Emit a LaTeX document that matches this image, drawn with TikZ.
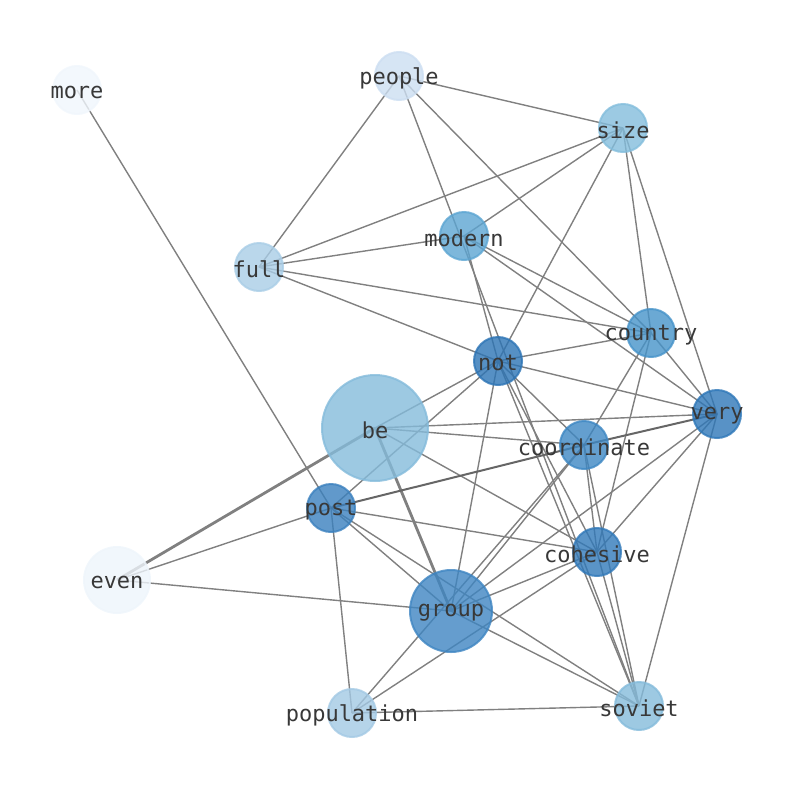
\documentclass[tikz,border=0pt]{standalone}
\usepackage{fontspec}
\setmonofont{DejaVu Sans Mono}
\usetikzlibrary{backgrounds}
\definecolor{cMore}{HTML}{F0F6FC}
\definecolor{cPeople}{HTML}{CCDEF1}
\definecolor{cSize}{HTML}{83BDDC}
\definecolor{cModern}{HTML}{5CA5D2}
\definecolor{cFull}{HTML}{A9CDE6}
\definecolor{cCountry}{HTML}{4693C9}
\definecolor{cNot}{HTML}{2C74B5}
\definecolor{cVery}{HTML}{2E77B8}
\definecolor{cBe}{HTML}{84BBDB}
\definecolor{cCoord}{HTML}{3D87C3}
\definecolor{cPost}{HTML}{3A80BE}
\definecolor{cCohesive}{HTML}{3179B9}
\definecolor{cEven}{HTML}{EEF5FB}
\definecolor{cGroup}{HTML}{3E85C2}
\definecolor{cPop}{HTML}{A3C9E4}
\definecolor{cSoviet}{HTML}{84BBDB}
\definecolor{edgegray}{HTML}{808080}
\definecolor{lblgray}{HTML}{383838}
\tikzset{
  gn/.style={circle, inner sep=0pt, fill opacity=0.8, draw opacity=0.8, line width=2pt},
  lbl/.style={inner sep=0pt, yshift=-2pt, font=\fontsize{22}{24}\selectfont\ttfamily, text=lblgray},
  ed/.style={draw=edgegray, line width=1.4pt},
  edthick/.style={draw=edgegray, line width=2.8pt},
  eddark/.style={draw=edgegray!80!black, line width=2pt},
}
\newcommand\wnode[5]{%
  \node[gn, minimum size=#4pt, fill=#5, draw=#5] (#1) at (#2,#3) {};
  \node[lbl] (#1-t) at (#1.center) {#1};}
\begin{document}
\begin{tikzpicture}[x=1pt,y=-1pt]
\useasboundingbox (0,0) rectangle (794,790);
\wnode{more}{77}{90}{48}{cMore}
\wnode{people}{399}{76}{48}{cPeople}
\wnode{size}{623}{128}{48}{cSize}
\wnode{modern}{464}{236}{48}{cModern}
\wnode{full}{259}{267}{48}{cFull}
\wnode{country}{651}{333}{48}{cCountry}
\wnode{not}{498}{361}{48}{cNot}
\wnode{very}{717}{414}{48}{cVery}
\wnode{be}{375}{428}{106}{cBe}
\wnode{coordinate}{584}{445}{48}{cCoord}
\wnode{post}{331}{508}{48}{cPost}
\wnode{cohesive}{597}{552}{48}{cCohesive}
\wnode{even}{117}{580}{66}{cEven}
\wnode{group}{451}{611}{82}{cGroup}
\wnode{population}{352}{713}{48}{cPop}
\wnode{soviet}{639}{706}{48}{cSoviet}
\begin{scope}[on background layer]
\foreach \a/\b in {more/post,
  people/full, people/size, people/country, people/soviet,
  size/full, size/modern, size/not, size/country, size/very,
  full/modern, full/country, full/not,
  modern/not, modern/country, modern/very,
  not/country, not/very, not/be, not/post, not/group, not/coordinate, not/cohesive, not/soviet,
  country/very, country/coordinate, country/cohesive,
  very/be, very/cohesive, very/group, very/soviet,
  be/coordinate, be/cohesive,
  coordinate/group, coordinate/population, coordinate/cohesive, coordinate/soviet,
  post/even, post/cohesive, post/group, post/soviet, post/population,
  even/group,
  group/cohesive, group/soviet,
  cohesive/population, cohesive/soviet,
  population/soviet}
  \draw[ed] (\a.center) -- (\b.center);
\draw[edthick] (even.center) -- (be.center);
\draw[edthick] (be.center) -- (group.center);
\draw[eddark] (post.center) -- (coordinate.center);
\draw[eddark] (coordinate.center) -- (very.center);
\end{scope}
\end{tikzpicture}
\end{document}
